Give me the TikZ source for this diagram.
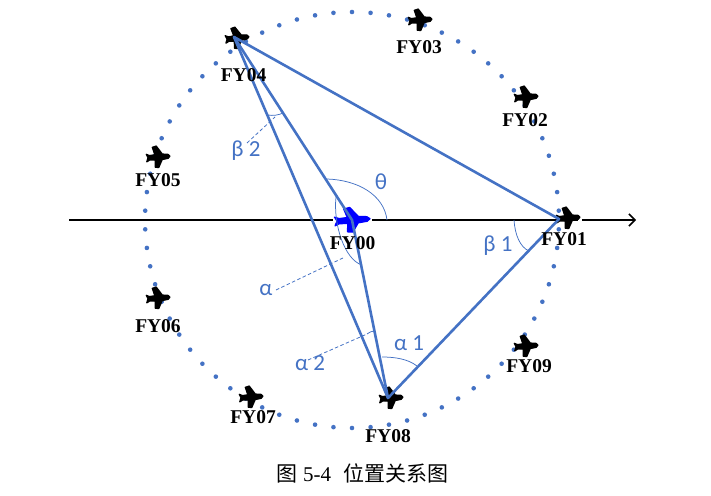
\documentclass[tikz,border=0pt]{standalone}
\usepackage{fontspec}
\setmainfont{Liberation Serif}
\newfontfamily\cjkfont{Noto Sans CJK SC}
\newfontfamily\greekfont{Carlito}
\usetikzlibrary{arrows.meta}
\definecolor{bl}{HTML}{4472C4}
\definecolor{lb}{HTML}{4472C4}
\tikzset{
  x=1pt,y=-1pt,
  pics/plane/.style={code={
    \path[fill=#1,draw=#1,line width=1.3pt,line join=round]
      (-11.5,-3.5) -- (-8.5,-2) -- (-3,-2.4) -- (-5,-10) -- (-1,-11) -- (4.5,-2.6) -- (10,-2) -- (12,0) -- (10,2) -- (4,2.8)
      -- (0,10.5) -- (-3.5,10) -- (-3,2.8) -- (-8.5,2.4) -- (-11.5,4) -- (-10,0) -- cycle;
  }},
  tri/.style={draw=bl,line width=2.6pt,line join=round},
  ang/.style={draw=bl,line width=.75pt},
  lead/.style={draw=bl,line width=.8pt,dash pattern=on 3.5pt off 2.4pt},
  fy/.style={font=\fontsize{19.5}{19.5}\selectfont\bfseries,text=black,inner sep=0pt},
  gk/.style={font=\greekfont\fontsize{23}{23}\selectfont,text=lb,inner sep=0pt},
}
\begin{document}
\begin{tikzpicture}
\useasboundingbox (0,0) rectangle (711,495);
% dotted orbit
\foreach \i in {0,...,69}{
  \pgfmathsetmacro{\a}{2.57+5.1429*\i}
  \fill[bl] ({352+207*cos(\a)},{220-208*sin(\a)}) circle[radius=2.3];
}
% axis
\coordinate (axL) at (69,220);
\coordinate (axR) at (636,220);
\draw[line width=1.5pt,-{Straight Barb[length=6pt,width=12pt,line width=1.5pt]}] (axL) -- (axR);
% hidden axis under the planes
\fill[white] (333,216) rectangle (372,224);
\fill[white] (578,216) rectangle (582,224);
% planes
\pic[rotate=6] at (237,38) {plane=black};
\pic[rotate=4] at (420,20) {plane=black};
\pic[rotate=4] at (526,97) {plane=black};
\pic[rotate=4] at (158,157) {plane=black};
\pic[rotate=4] at (158,298) {plane=black};
\pic[rotate=4] at (251,397) {plane=black};
\pic[rotate=4] at (526,346) {plane=black};
\pic[rotate=4] at (391,398) {plane=black};
\pic[rotate=4] at (568,218) {plane=black};
\pic[rotate=4,xscale=1.5,yscale=1.15] at (352,220) {plane={blue}};
% triangle vertices
\coordinate (A4) at (234,37);
\coordinate (A1) at (559,219);
\coordinate (A8) at (388,398);
\coordinate (A0) at (352,220);
\draw[tri] (A4) -- (A1) -- (A8) -- cycle;
\draw[tri] (A4) -- (A0) -- (A8);
% angle arcs
\draw[ang] (387,220) .. controls (384,195) and (358,180) .. (327,179);
\draw[ang] (336,197) .. controls (333,225) and (345,260) .. (362,265);
\draw[ang] (382,357) .. controls (395,357) and (408,359) .. (417,366);
\draw[ang] (367,334) .. controls (370,332) and (372,331) .. (374,331);
\draw[ang] (268,115) .. controls (273,116) and (279,115) .. (283,113);
\draw[ang] (514,220) .. controls (515,235) and (520,247) .. (529,251);
% leaders
\coordinate (b2a) at (247,143); \coordinate (b2b) at (275,117);
\coordinate (aa) at (276,290);  \coordinate (ab) at (345,257);
\coordinate (a2a) at (308,360); \coordinate (a2b) at (367,334);
\draw[lead] (b2a) -- (b2b);
\draw[lead] (aa) -- (ab);
\draw[lead] (a2a) -- (a2b);
% labels
\node[fy] (f00) at (352.5,243) {FY00};
\node[fy] (f01) at (564,239) {FY01};
\node[fy] (f02) at (525,120) {FY02};
\node[fy] (f03) at (419,47) {FY03};
\node[fy] (f04) at (243.5,75) {FY04};
\node[fy] (f05) at (158,180) {FY05};
\node[fy] (f06) at (158,326) {FY06};
\node[fy] (f07) at (253,417) {FY07};
\node[fy] (f08) at (388,436) {FY08};
\node[fy] (f09) at (529,366) {FY09};
\node[gk] (gth) at (381,182) {θ};
\node[gk] (gb2) at (246,151) {β 2};
\node[gk] (gb1) at (498,246) {β 1};
\node[gk] (ga) at (266,290) {α};
\node[gk] (ga1) at (409,343) {α 1};
\node[gk] (ga2) at (310,363) {α 2};
\node[inner sep=0pt,anchor=base west,font=\fontsize{21}{21}\selectfont] (cap) at (276,481) {{\cjkfont 图}\hspace{6pt}5-4\hspace{12pt}{\cjkfont 位置关系图}};
\end{tikzpicture}
\end{document}
